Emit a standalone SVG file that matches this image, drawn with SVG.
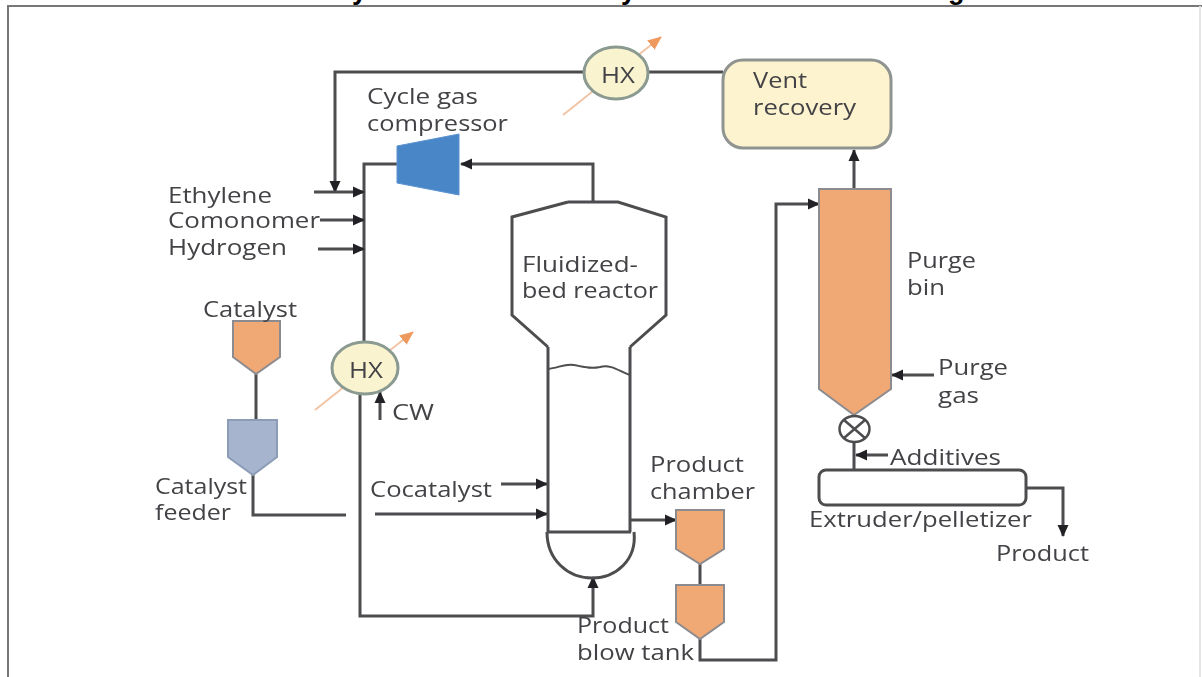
<svg xmlns="http://www.w3.org/2000/svg" width="1202" height="677" viewBox="0 0 1202 677">
<style>
text{font-family:"Open Sans","Liberation Sans",sans-serif;font-size:22px;fill:#434346}
.title{font-family:"Liberation Sans",Arial,sans-serif;font-size:27px;font-weight:700;fill:#000}
.c{fill:none;stroke:#4d4d4f;stroke-width:3}
.t{fill:none;stroke:#4d4d4f;stroke-width:3}
.a{marker-end:url(#arr)}
.tank{fill:#f0a875;stroke:#8c8c90;stroke-width:2}
.hot{fill:none;stroke:#f2c4a6;stroke-width:2;marker-end:url(#hot)}
.hx{fill:#f9f3cf;stroke:#8b9a90;stroke-width:3}
</style>
<defs>
<marker id="arr" markerUnits="userSpaceOnUse" markerWidth="14" markerHeight="14" refX="11" refY="7" orient="auto"><path d="M0 1.500L12 7L0 12.500Z" fill="#232325"/></marker>
<marker id="hot" markerUnits="userSpaceOnUse" markerWidth="16" markerHeight="14" refX="13" refY="7" orient="auto"><path d="M0 1L14 7L0 13Z" fill="#ee9a5e"/></marker>
<filter id="soft" x="-2%" y="-2%" width="104%" height="104%"><feGaussianBlur stdDeviation="0.6"/></filter>
</defs>
<rect width="1202" height="677" fill="#fff"/>
<g id="frame" fill="none" stroke="#77777a" stroke-width="2"><path d="M8 677V6H1202"/><path d="M1200 6V677" stroke="#e4e4e4"/></g>
<g id="title-fragments"><text class="title" x="352" y="-1">y</text><text class="title" x="621" y="-1">y</text><text class="title" x="948" y="-1">g</text></g>
<g filter="url(#soft)">
<g id="connectors">
<path class="hot" d="M563 115L661 37"/>
<path class="hot" d="M315 410L413 332"/>
<path class="c a" d="M648 72H335V192"/>
<path class="c" d="M723 72H648"/>
<path class="c" d="M397 164H364V342"/>
<path class="c a" d="M593 203V164H461"/>
<path class="c a" d="M314 192H364"/>
<path class="c a" d="M320 220H364"/>
<path class="c a" d="M318 249H364"/>
<path class="c a" d="M360 394V616H593V577"/>
<path class="c a" d="M380 420V392"/>
<path class="c" d="M256 374V420"/>
<path class="c" d="M253 475V515H346"/>
<path class="c a" d="M375 514H547"/>
<path class="c a" d="M501 484H547"/>
<path class="c a" d="M630 520H676"/>
<path class="c" d="M700 564V585"/>
<path class="c a" d="M700 639V660H776V204H819"/>
<path class="c a" d="M854 190V150"/>
<path class="c a" d="M934 375H892"/>
<path class="c" d="M854 442V470"/>
<path class="c a" d="M888 455H856"/>
<path class="c a" d="M1026 488H1063V536"/>
</g>
<g id="compressor"><path d="M397 146L459 134V195L397 183Z" fill="#4a86c8" stroke="#5b93cf"/><text x="367" y="104" textLength="111" lengthAdjust="spacingAndGlyphs">Cycle gas</text><text x="367" y="131" textLength="141" lengthAdjust="spacingAndGlyphs">compressor</text></g>
<g id="feeds"><text x="168" y="203" textLength="104" lengthAdjust="spacingAndGlyphs">Ethylene</text><text x="168" y="228" textLength="152" lengthAdjust="spacingAndGlyphs">Comonomer</text><text x="168" y="255" textLength="119" lengthAdjust="spacingAndGlyphs">Hydrogen</text></g>
<g id="reactor"><path class="t" d="M630 347V532M548 347V532"/><path class="t" d="M568 202H618L666 217V315L630 347M568 202L512 217V315L548 347"/><path d="M548 369C558 368 566 363 574 365C584 367 590 369 600 367C612 364 620 372 630 375" fill="none" stroke="#4d4d4f" stroke-width="2"/><path class="t" d="M547 532H631M547 532C547 560 568 578 592 578C616 578 637 560 634 532"/><text x="522" y="272" textLength="116" lengthAdjust="spacingAndGlyphs">Fluidized-</text><text x="522" y="298" textLength="136" lengthAdjust="spacingAndGlyphs">bed reactor</text></g>
<g id="catalyst"><path class="tank" d="M233 321H280V357L256 374L233 357Z"/><text x="203" y="317" textLength="94" lengthAdjust="spacingAndGlyphs">Catalyst</text></g>
<g id="catalyst-feeder"><path d="M228 420H277V457L253 475L228 457Z" fill="#a6b4cd" stroke="#8d9cb6" stroke-width="2"/><text x="155" y="494" textLength="92" lengthAdjust="spacingAndGlyphs">Catalyst</text><text x="155" y="520" textLength="76" lengthAdjust="spacingAndGlyphs">feeder</text></g>
<g id="hx-left"><ellipse class="hx" cx="365" cy="368" rx="33" ry="26"/><text x="349" y="378" textLength="34" lengthAdjust="spacingAndGlyphs">HX</text></g>
<text id="cw" x="392" y="420" textLength="42" lengthAdjust="spacingAndGlyphs">CW</text>
<text id="cocatalyst" x="370" y="497" textLength="122" lengthAdjust="spacingAndGlyphs">Cocatalyst</text>
<g id="hx-top"><ellipse class="hx" cx="616" cy="73" rx="32" ry="26"/><text x="601" y="83" textLength="34" lengthAdjust="spacingAndGlyphs">HX</text></g>
<g id="vent-recovery"><rect x="723" y="60" width="168" height="88" rx="20" fill="#fdf3cf" stroke="#8f9490" stroke-width="3"/><text x="753" y="88" textLength="54" lengthAdjust="spacingAndGlyphs">Vent</text><text x="753" y="115" textLength="103" lengthAdjust="spacingAndGlyphs">recovery</text></g>
<g id="purge-bin"><path class="tank" d="M819 189H891V389L854 415L819 389Z"/><text x="907" y="268" textLength="69" lengthAdjust="spacingAndGlyphs">Purge</text><text x="907" y="295" textLength="38" lengthAdjust="spacingAndGlyphs">bin</text></g>
<g id="purge-gas"><text x="938" y="375" textLength="70" lengthAdjust="spacingAndGlyphs">Purge</text><text x="938" y="403" textLength="41" lengthAdjust="spacingAndGlyphs">gas</text></g>
<g id="valve" fill="none" stroke="#4d4d4f" stroke-width="2.500"><ellipse cx="854.500" cy="429" rx="15" ry="13"/><path d="M844 420L865 438M865 420L844 438"/></g>
<text id="additives" x="890" y="465" textLength="111" lengthAdjust="spacingAndGlyphs">Additives</text>
<g id="extruder"><rect x="819" y="470" width="207" height="35" rx="7" fill="#fff" stroke="#4d4d4f" stroke-width="3"/><text x="809" y="527" textLength="223" lengthAdjust="spacingAndGlyphs">Extruder/pelletizer</text></g>
<text id="product" x="996" y="561" textLength="93" lengthAdjust="spacingAndGlyphs">Product</text>
<g id="product-chamber"><path class="tank" d="M676 510H724V549L700 564L676 549Z"/><text x="650" y="472" textLength="94" lengthAdjust="spacingAndGlyphs">Product</text><text x="650" y="499" textLength="105" lengthAdjust="spacingAndGlyphs">chamber</text></g>
<g id="blow-tank"><path class="tank" d="M676 585H724V622L700 639L676 622Z"/><text x="577" y="633" textLength="92" lengthAdjust="spacingAndGlyphs">Product</text><text x="577" y="660" textLength="117" lengthAdjust="spacingAndGlyphs">blow tank</text></g>
</g>
</svg>
